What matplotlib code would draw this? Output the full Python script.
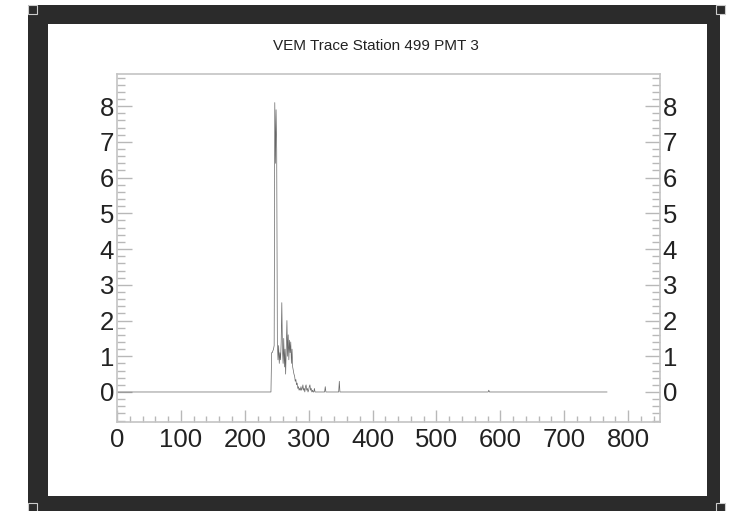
import numpy as np
import matplotlib
matplotlib.use("Agg")
import matplotlib.pyplot as plt
from matplotlib.patches import Rectangle
from matplotlib.ticker import MultipleLocator

plt.rcParams["font.family"] = ["Liberation Sans", "DejaVu Sans"]

# VEM trace: 768 bins, flat baseline except the pulse and a few spikes
n_bins = 768
pulse_start = 242
pulse_vem = [1.1, 1.1, 1.15, 1.2, 1.3,                          # 242-246
             8.1, 6.4, 7.9, 6.8, 1.4, 0.9, 1.3, 0.8, 1.1, 0.9,  # 247-256
             1.4, 2.5, 1.2, 0.8, 1.5, 0.7, 1.2, 0.5, 1.3, 2.0,  # 257-266
             1.0, 1.6, 0.9, 1.45, 1.1, 1.4, 0.8, 1.2, 0.7, 0.6,  # 267-276
             0.5, 0.45, 0.3, 0.35, 0.2, 0.25, 0.1, 0.15, 0.05, 0.1,  # 277-286
             0.05, 0.15, 0.05, 0.1, 0.2, 0.05, 0.1, 0.0, 0.15, 0.2,  # 287-296
             0.05, 0.1, 0.0, 0.05, 0.15, 0.2, 0.05, 0.1, 0.0, 0.05,  # 297-306
             0.0, 0.0, 0.1, 0.0]                                  # 307-310
spike_bins = [326, 348, 582]
spike_vem = [0.15, 0.3, 0.05]

title = "VEM Trace Station 499 PMT 3"

trace = np.zeros(n_bins)
trace[pulse_start:pulse_start + len(pulse_vem)] = pulse_vem
trace[spike_bins] = spike_vem

W, H = 730, 511
fig = plt.figure(figsize=(W / 100, H / 100), dpi=100)
fig.patch.set_facecolor("white")


def px_rect(x0, y0, x1, y1, z, **kw):
    # rectangle in figure pixels, y measured from the top
    fig.patches.append(Rectangle((x0 / W, 1 - y1 / H), (x1 - x0) / W, (y1 - y0) / H,
                                 transform=fig.transFigure, figure=fig, zorder=z, **kw))


# dark window frame with white canvas
px_rect(28, 5, 720, 511, -3, facecolor="#2b2b2b", edgecolor="none")
px_rect(48, 24, 707, 496, -2, facecolor="white", edgecolor="none")
for hx, hy in [(28, 5), (716, 5), (28, 503), (716, 503)]:
    px_rect(hx, hy, hx + 9, hy + 9, -1, facecolor="#2b2b2b", edgecolor="#cccccc", lw=0.8)

ax = fig.add_axes([117 / W, 1 - 422 / H, 543 / W, 348 / H])
ax.set_zorder(5)
ax.plot(np.arange(n_bins), trace, color="#666666", lw=0.5)

ax.set_xlim(0, 850)
ax.set_ylim(-0.84, 8.9)
ax.xaxis.set_major_locator(MultipleLocator(100))
ax.xaxis.set_minor_locator(MultipleLocator(20))
ax.yaxis.set_major_locator(MultipleLocator(1))
ax.yaxis.set_minor_locator(MultipleLocator(0.2))

for s in ax.spines.values():
    s.set_color("#c4c4c4")
    s.set_linewidth(1.2)

ax.tick_params(axis="both", which="both", direction="in", color="#b8b8b8",
               labelsize=18.5, labelcolor="#222222", width=1)
ax.tick_params(axis="y", which="both", left=True, right=True,
               labelleft=True, labelright=True, pad=2)
ax.tick_params(axis="y", which="major", length=11)
ax.tick_params(axis="y", which="minor", length=5.5)
ax.tick_params(axis="x", which="both", top=False, bottom=True, pad=4)
ax.tick_params(axis="x", which="major", length=9)
ax.tick_params(axis="x", which="minor", length=4.5)

fig.text(376 / W, 1 - 46 / H, title, ha="center", va="center",
         fontsize=11, color="#222222", zorder=6)

fig.savefig("out.png", dpi=100)
